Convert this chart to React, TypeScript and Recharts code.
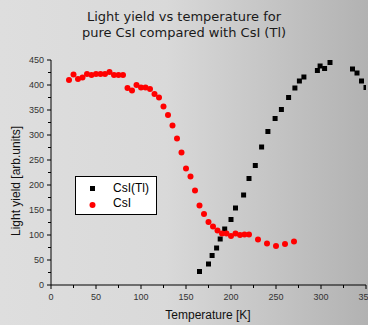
import { ScatterChart, Scatter, XAxis, YAxis, Legend } from 'recharts';

// CsI (pure) – red circles
const csiTemp = [20, 25, 30, 35, 40, 45, 50, 55, 60, 65, 70, 75, 80, 85, 90, 95, 100, 105, 110, 115, 120, 125, 130, 135, 140, 145, 150, 155, 160, 165, 170, 175, 180, 185, 190, 195, 200, 205, 210, 215, 220, 230, 240, 250, 260, 270];
const csiYield = [410, 421, 412, 415, 422, 420, 422, 422, 422, 426, 420, 420, 420, 394, 389, 400, 395, 395, 392, 382, 375, 357, 340, 319, 293, 265, 233, 217, 189, 159, 142, 126, 117, 109, 103, 103, 98, 103, 100, 101, 101, 91, 83, 78, 82, 87];

// CsI(Tl) – black squares
const tlTemp = [165, 175, 179, 184, 188, 193, 200, 205, 214, 220, 227, 234, 241, 249, 256, 264, 271, 276, 281, 296, 299, 304, 310, 335, 340, 345, 350];
const tlYield = [27, 42, 59, 74, 92, 112, 131, 154, 180, 213, 239, 276, 307, 333, 351, 375, 394, 408, 416, 429, 438, 433, 445, 432, 424, 408, 395];

const xTicks = [0, 25, 50, 75, 100, 125, 150, 175, 200, 225, 250, 275, 300, 325, 350];
const yTicks = [0, 25, 50, 75, 100, 125, 150, 175, 200, 225, 250, 275, 300, 325, 350, 375, 400, 425, 450];

const csiData = csiTemp.map((t, i) => ({ t, y: csiYield[i] }));
const tlData = tlTemp.map((t, i) => ({ t, y: tlYield[i] }));

const tickFont = { fontFamily: 'Liberation Sans, Arial, sans-serif', fontSize: 9, fill: '#333' };

function XTick(props: any) {
  const { x, y, payload } = props;
  const major = payload.value % 50 === 0;
  return (
    <g>
      <line x1={x} y1={y} x2={x} y2={y + (major ? 4 : 3)} stroke="#000" />
      {major && (
        <text x={x} y={y + 15} textAnchor="middle" {...tickFont}>{payload.value}</text>
      )}
    </g>
  );
}

function YTick(props: any) {
  const { x, y, payload } = props;
  const major = payload.value % 50 === 0;
  return (
    <g>
      <line x1={x} y1={y} x2={x - (major ? 4 : 3)} y2={y} stroke="#000" />
      {major && (
        <text x={x - 7} y={y + 3} textAnchor="end" {...tickFont}>{payload.value}</text>
      )}
    </g>
  );
}

const Square = (p: any) => <rect x={p.cx - 2.5} y={p.cy - 2.5} width={5} height={5} fill="#000" />;
const Dot = (p: any) => <circle cx={p.cx} cy={p.cy} r={3} fill="#ff0000" />;

function LegendBox() {
  return (
    <div style={{ width: 80, height: 37, border: '1px solid #000', background: '#fff', position: 'relative', fontFamily: 'Liberation Sans, Arial, sans-serif', fontSize: 12, color: '#000', textAlign: 'left' }}>
      <svg width={20} height={37} style={{ position: 'absolute', left: 10, top: 0 }}>
        <rect x={4} y={9} width={5} height={5} fill="#000" />
        <circle cx={6.5} cy={28} r={3} fill="#ff0000" />
      </svg>
      <div style={{ position: 'absolute', left: 37, top: 4, lineHeight: '15px' }}>CsI(Tl)</div>
      <div style={{ position: 'absolute', left: 37, top: 19, lineHeight: '15px' }}>CsI</div>
    </div>
  );
}

export default function App() {
  return (
    <div style={{ position: 'absolute', left: 0, top: 0, width: 368, height: 325, overflow: 'hidden', background: 'linear-gradient(to right, #dedede 0%, #d9d9d9 45%, #b2b2b2 100%)' }}>
      <div style={{ position: 'absolute', top: 9, width: 368, textAlign: 'center', fontFamily: 'DejaVu Sans, sans-serif', fontSize: 13, lineHeight: '16px', color: '#1a1a1a' }}>
        Light yield vs temperature for<br />pure CsI compared with CsI (Tl)
      </div>
      <ScatterChart width={368} height={325} margin={{ top: 60, right: 2, bottom: 10, left: 11 }}>
        <XAxis type="number" dataKey="t" domain={[0, 350]} ticks={xTicks} interval={0} tick={<XTick />} tickLine={false} tickSize={0} tickMargin={0} height={30} stroke="#000" allowDataOverflow />
        <YAxis type="number" dataKey="y" domain={[0, 450]} ticks={yTicks} interval={0} tick={<YTick />} tickLine={false} tickSize={0} tickMargin={0} width={40} stroke="#000" allowDataOverflow />
        <Legend content={<LegendBox />} layout="vertical" align="center" verticalAlign="middle" wrapperStyle={{ left: 75, top: 176, width: 82 }} />
        <Scatter name="CsI(Tl)" data={tlData} shape={Square} isAnimationActive={false} />
        <Scatter name="CsI" data={csiData} shape={Dot} isAnimationActive={false} />
      </ScatterChart>
      <div style={{ position: 'absolute', left: 50, width: 316, top: 308, textAlign: 'center', fontFamily: 'Liberation Sans, Arial, sans-serif', fontSize: 12, color: '#111' }}>
        Temperature [K]
      </div>
      <div style={{ position: 'absolute', left: 16, top: 181, width: 0, height: 0 }}>
        <div style={{ position: 'absolute', transform: 'translate(-50%, -50%) rotate(-90deg)', whiteSpace: 'nowrap', fontFamily: 'Liberation Sans, Arial, sans-serif', fontSize: 12, color: '#111' }}>
          Light yield [arb.units]
        </div>
      </div>
    </div>
  );
}
